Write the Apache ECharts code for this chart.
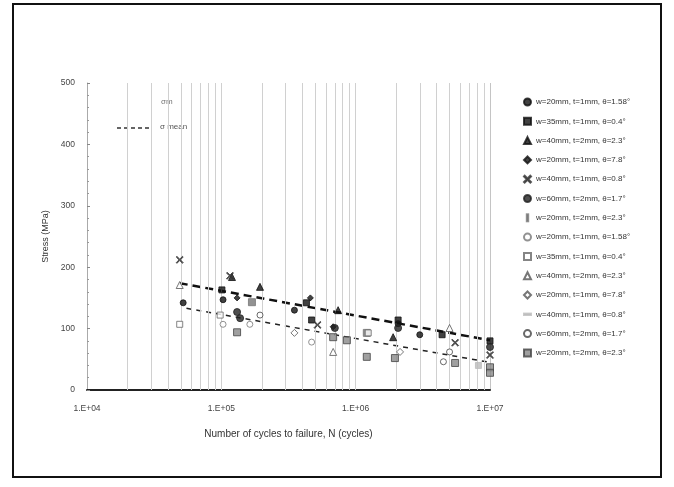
<!DOCTYPE html>
<html>
<head>
<meta charset="utf-8">
<script src="https://cdn.jsdelivr.net/npm/echarts@6/dist/echarts.min.js"></script>
<style>
  html, body { margin: 0; padding: 0; background: #fff; }
  #chart { width: 674px; height: 487px; }
</style>
</head>
<body>
<div id="chart"></div>
<script>
// legend labels (solid = first set, open = second set)
var names = [
  "w=20mm, t=1mm, θ=1.58°",
  "w=35mm, t=1mm, θ=0.4°",
  "w=40mm, t=2mm, θ=2.3°",
  "w=20mm, t=1mm, θ=7.8°",
  "w=40mm, t=1mm, θ=0.8°",
  "w=60mm, t=2mm, θ=1.7°",
  "w=20mm, t=2mm, θ=2.3°",
  "w=20mm, t=1mm, θ=1.58° ",
  "w=35mm, t=1mm, θ=0.4° ",
  "w=40mm, t=2mm, θ=2.3° ",
  "w=20mm, t=1mm, θ=7.8° ",
  "w=40mm, t=1mm, θ=0.8° ",
  "w=60mm, t=2mm, θ=1.7° ",
  "w=20mm, t=2mm, θ=2.3° "
];

// [cycles N, stress MPa]
var s1 = [[5.2e4, 142], [1.03e5, 147], [3.5e5, 130], [2.07e6, 108], [3.0e6, 90]];
var s2 = [[1.01e5, 163], [4.3e5, 142], [4.7e5, 114], [2.07e6, 114], [4.4e6, 90], [1.0e7, 80]];
var s3 = [[1.2e5, 184], [1.94e5, 168], [7.4e5, 130], [1.9e6, 86]];
var s4 = [[4.6e5, 150], [1.31e5, 150], [6.8e5, 103]];
var s5 = [[4.9e4, 212], [1.16e5, 186], [5.2e5, 106], [5.5e6, 77], [1.0e7, 57]];
var s6 = [[1.31e5, 127], [1.38e5, 117], [7.0e5, 101], [2.07e6, 101], [1.0e7, 70]];
var s7 = [[1.69e5, 143], [1.21e6, 93]];
var s8 = [[1.03e5, 107], [1.63e5, 107], [4.7e5, 78]];
var s9 = [[4.9e4, 107], [9.8e4, 122], [1.24e6, 93]];
var s10 = [[4.9e4, 171], [6.8e5, 62], [5.0e6, 101]];
var s11 = [[3.5e5, 93], [2.14e6, 62]];
var s12 = [[8.2e6, 40]];
var s13 = [[1.94e5, 122], [4.5e6, 46], [5.0e6, 62]];
var s14 = [[1.31e5, 94], [6.8e5, 86], [8.6e5, 81], [1.21e6, 54], [1.96e6, 52], [5.5e6, 44], [1.0e7, 37], [1.0e7, 28]];

// regression lines
var fitUpper = [[4.9e4, 174], [1.0e7, 81]];
var fitLower = [[5.5e4, 133], [1.0e7, 45]];

var xTicks = ["1.E+04", "1.E+05", "1.E+06", "1.E+07"];
var gridN = [2e4, 3e4, 4e4, 5e4, 6e4, 7e4, 8e4, 9e4, 1e5,
             2e5, 3e5, 4e5, 5e5, 6e5, 7e5, 8e5, 9e5, 1e6,
             2e6, 3e6, 4e6, 5e6, 6e6, 7e6, 8e6, 9e6];

var crossPath = "path://M1,0L5,4L9,0L10,1L6,5L10,9L9,10L5,6L1,10L0,9L4,5L0,1Z";
var barPath = "path://M4,0L6,0L6,10L4,10Z";
var dashPath = "path://M0,4L10,4L10,6L0,6Z";

var marks = [
  { d: s1, sym: "circle", size: 6, fill: "#111", stroke: "#111" },
  { d: s2, sym: "rect", size: 6, fill: "#111", stroke: "#111" },
  { d: s3, sym: "triangle", size: 7, fill: "#111", stroke: "#111" },
  { d: s4, sym: "diamond", size: 6, fill: "#111", stroke: "#111" },
  { d: s5, sym: crossPath, size: 7, fill: "#333", stroke: "#333" },
  { d: s6, sym: "circle", size: 7, fill: "#222", stroke: "#222" },
  { d: s7, sym: barPath, size: 7, fill: "#777", stroke: "#777" },
  { d: s8, sym: "circle", size: 6, fill: "#fff", stroke: "#777" },
  { d: s9, sym: "rect", size: 6, fill: "#fff", stroke: "#666" },
  { d: s10, sym: "triangle", size: 7, fill: "#fff", stroke: "#555" },
  { d: s11, sym: "diamond", size: 7, fill: "#fff", stroke: "#555" },
  { d: s12, sym: dashPath, size: 6, fill: "#bbb", stroke: "#bbb" },
  { d: s13, sym: "circle", size: 6, fill: "#fff", stroke: "#444" },
  { d: s14, sym: "rect", size: 7, fill: "#888", stroke: "#444" }
];

var series = marks.map(function (m, i) {
  return {
    name: names[i],
    type: "scatter",
    data: m.d,
    symbol: m.sym,
    symbolSize: m.size,
    itemStyle: { color: m.fill, borderColor: m.stroke, borderWidth: 1 },
    z: 5
  };
});

series.push({
  name: "fitUpper",
  type: "line",
  data: fitUpper,
  symbol: "none",
  lineStyle: { color: "#111", width: 2.5, type: [8, 5] },
  z: 4,
  markLine: {
    silent: true,
    symbol: "none",
    label: { show: false },
    lineStyle: { color: "#d0d0d0", width: 1, type: "solid" },
    data: gridN.map(function (v) { return { xAxis: v }; })
  }
});
series.push({
  name: "fitLower",
  type: "line",
  data: fitLower,
  symbol: "none",
  lineStyle: { color: "#222", width: 1.5, type: [5, 5] },
  z: 4
});

var chart = echarts.init(document.getElementById("chart"));
chart.setOption({
  animation: false,
  textStyle: { fontFamily: "Liberation Sans, Arial, sans-serif" },
  grid: { left: 87, right: 184, top: 83, bottom: 97 },
  legend: {
    data: names,
    orient: "vertical",
    left: 518,
    top: 92,
    itemWidth: 7,
    itemHeight: 7,
    itemGap: 9.3,
    textStyle: { fontSize: 8, color: "#333", lineHeight: 10 }
  },
  xAxis: {
    type: "log",
    logBase: 10,
    min: 1e4,
    max: 1e7,
    name: "Number of cycles to failure, N (cycles)",
    nameLocation: "middle",
    nameGap: 39,
    nameTextStyle: { fontSize: 10, color: "#333" },
    axisLine: { lineStyle: { color: "#222", width: 2 } },
    axisTick: { show: false },
    splitLine: { show: true, lineStyle: { color: "#c4c4c4" } },
    axisLabel: {
      fontSize: 8.5,
      color: "#444",
      margin: 14,
      formatter: function (v) {
        var k = Math.round(Math.log10(v)) - 4;
        return xTicks[k] || "";
      }
    }
  },
  yAxis: {
    type: "value",
    min: 0,
    max: 500,
    interval: 100,
    name: "Stress (MPa)",
    nameLocation: "middle",
    nameGap: 36,
    nameTextStyle: { fontSize: 9, color: "#333" },
    axisLine: { show: true, lineStyle: { color: "#aaa", width: 1 } },
    axisTick: { show: true, inside: true, length: 3, lineStyle: { color: "#888" } },
    minorTick: { show: true, splitNumber: 5, length: 2, lineStyle: { color: "#999" } },
    splitLine: { show: false },
    axisLabel: { fontSize: 8.5, color: "#444", margin: 12 }
  },
  graphic: [
    {
      type: "rect",
      shape: { x: 13, y: 4, width: 648, height: 473 },
      style: { fill: "none", stroke: "#111", lineWidth: 2 },
      silent: true
    },
    {
      type: "line",
      shape: { x1: 117, y1: 128, x2: 150, y2: 128 },
      style: { stroke: "#333", lineWidth: 1.5, lineDash: [4, 3] }
    },
    {
      type: "text",
      left: 160,
      top: 123,
      style: { text: "σ mean", fontSize: 8, fill: "#555", fontFamily: "Liberation Sans" }
    },
    {
      type: "text",
      left: 161,
      top: 98,
      style: { text: "σm", fontSize: 8, fill: "#777", fontFamily: "Liberation Sans" }
    }
  ],
  series: series
});
</script>
</body>
</html>
